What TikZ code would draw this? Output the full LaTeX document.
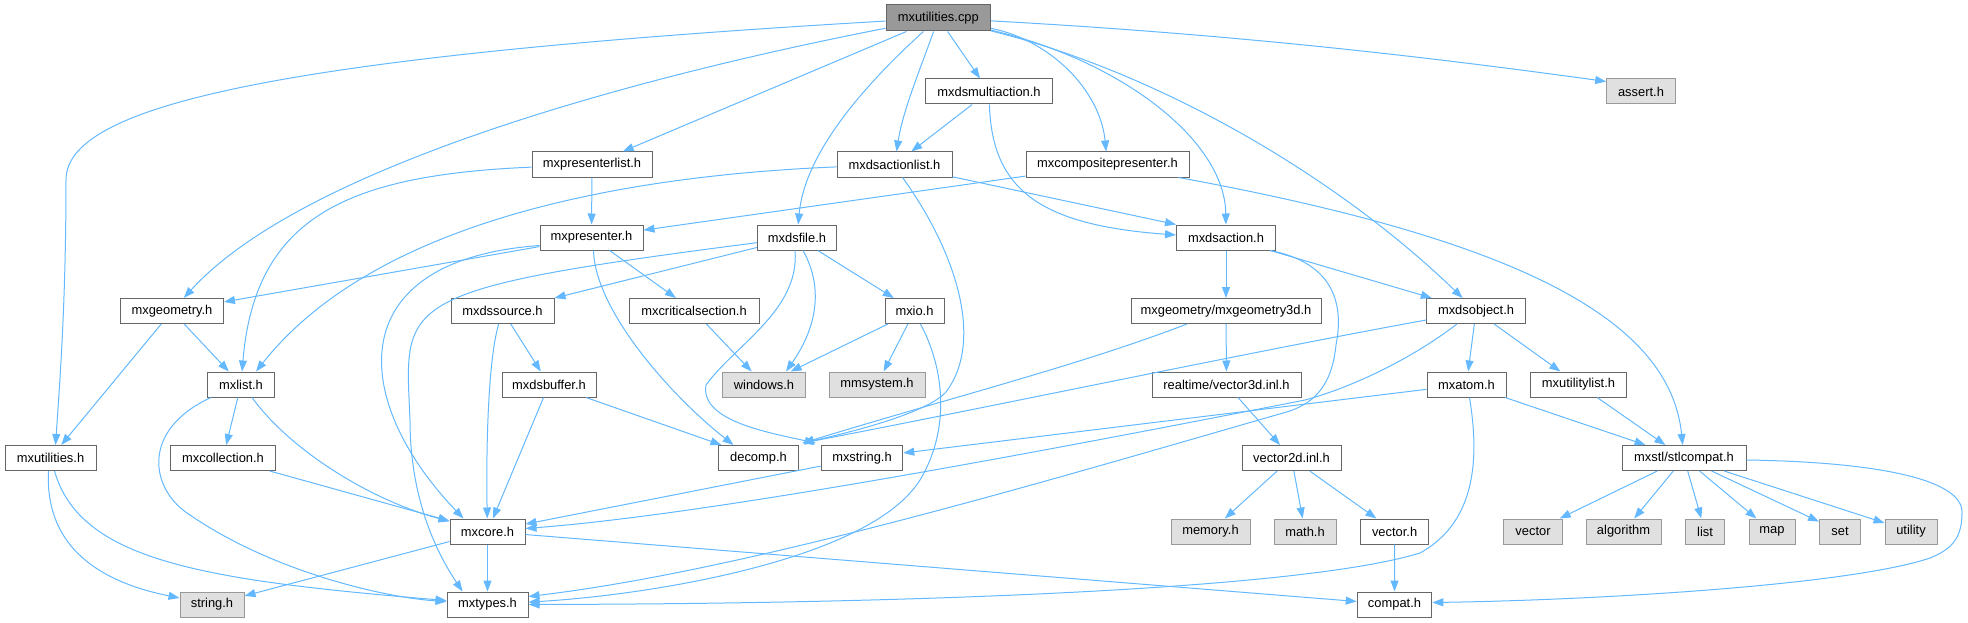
\documentclass[tikz,border=0pt]{standalone}
\usepackage{fontspec}
\setmainfont{Liberation Sans}
\usetikzlibrary{arrows.meta}
\definecolor{edgeblue}{HTML}{63B8FF}
\definecolor{nodeborder}{HTML}{666666}
\definecolor{grayfill}{HTML}{E0E0E0}
\definecolor{grayborder}{HTML}{999999}
\definecolor{rootfill}{HTML}{999999}
\begin{document}
\begin{tikzpicture}[x=1pt,y=-1pt,
 box/.style={draw=nodeborder, fill=white, line width=1pt, minimum height=25pt, inner sep=0pt, font=\fontsize{12.9}{15}\selectfont, text=black},
 sysbox/.style={box, draw=grayborder, fill=grayfill},
 rootbox/.style={box, fill=rootfill, minimum height=26pt},
 dep/.style={draw=edgeblue, line width=1pt, -{Triangle[length=11pt,width=8pt]}},
]
\useasboundingbox (0,0) rectangle (1968,623);

\node[rootbox, minimum width=104.5pt] (cpp) at (938.3,18) {mxutilities.cpp};
\node[box, minimum width=127pt] (multiaction) at (989,91.5) {mxdsmultiaction.h};
\node[sysbox, minimum width=68.6pt] (assert) at (1641,91.5) {assert.h};
\node[box, minimum width=120pt] (presenterlist) at (592,164.5) {mxpresenterlist.h};
\node[box, minimum width=115pt] (actionlist) at (894.5,164.5) {mxdsactionlist.h};
\node[box, minimum width=163pt] (composite) at (1107.5,164.5) {mxcompositepresenter.h};
\node[box, minimum width=103pt] (presenter) at (591.5,237.5) {mxpresenter.h};
\node[box, minimum width=79pt] (dsfile) at (797,237.5) {mxdsfile.h};
\node[box, minimum width=99pt] (dsaction) at (1226,237.5) {mxdsaction.h};
\node[box, minimum width=103pt] (geometry) at (172,311) {mxgeometry.h};
\node[box, minimum width=103pt] (dssource) at (502.5,311) {mxdssource.h};
\node[box, minimum width=130pt] (critsec) at (694,311) {mxcriticalsection.h};
\node[box, minimum width=59pt] (mxio) at (914.5,311) {mxio.h};
\node[box, minimum width=190pt] (geomthree) at (1226,311) {mxgeometry/mxgeometry3d.h};
\node[box, minimum width=98.5pt] (dsobject) at (1476,311) {mxdsobject.h};
\node[box, minimum width=67.5pt] (mxlist) at (241,384.5) {mxlist.h};
\node[box, minimum width=94pt] (dsbuffer) at (549,384.5) {mxdsbuffer.h};
\node[sysbox, minimum width=82.5pt] (windows) at (764,384.5) {windows.h};
\node[sysbox, minimum width=96pt] (mmsystem) at (877,384.5) {mmsystem.h};
\node[box, minimum width=149pt] (vecthree) at (1226.5,384.5) {realtime/vector3d.inl.h};
\node[box, minimum width=79pt] (atom) at (1466.5,384.5) {mxatom.h};
\node[box, minimum width=96pt] (utilitylist) at (1578.5,384.5) {mxutilitylist.h};
\node[box, minimum width=91pt] (mxutilh) at (50.5,458) {mxutilities.h};
\node[box, minimum width=104.5pt] (collection) at (223,458) {mxcollection.h};
\node[box, minimum width=79.3pt] (decomp) at (758.5,458) {decomp.h};
\node[box, minimum width=81.5pt] (mxstring) at (862,458) {mxstring.h};
\node[box, minimum width=99pt] (vectwo) at (1291.5,458) {vector2d.inl.h};
\node[box, minimum width=124pt] (stlcompat) at (1684,458) {mxstl/stlcompat.h};
\node[box, minimum width=75pt] (mxcore) at (487.5,531.5) {mxcore.h};
\node[sysbox, minimum width=79pt] (memory) at (1210.5,531.5) {memory.h};
\node[sysbox, minimum width=62pt] (math) at (1305,531.5) {math.h};
\node[box, minimum width=68pt] (vectorh) at (1394.6,531.5) {vector.h};
\node[sysbox, minimum width=59pt] (vector) at (1533,531.5) {vector};
\node[sysbox, minimum width=75pt] (algorithm) at (1623.5,531.5) {algorithm};
\node[sysbox, minimum width=39pt] (list) at (1705,531.5) {list};
\node[sysbox, minimum width=46pt] (map) at (1772,531.5) {map};
\node[sysbox, minimum width=41pt] (set) at (1840,531.5) {set};
\node[sysbox, minimum width=52pt] (utility) at (1911,531.5) {utility};
\node[sysbox, minimum width=64pt] (stringh) at (212,604.5) {string.h};
\node[box, minimum width=81pt] (mxtypes) at (487.5,604.5) {mxtypes.h};
\node[box, minimum width=74.6pt] (compat) at (1394.5,604.5) {compat.h};

% from mxutilities.cpp
\draw[dep] (cpp) .. controls (250,58) and (66,110) .. (66,180) .. controls (66,300) and (60,380) .. ([xshift=5pt]mxutilh.north);
\draw[dep] (cpp) .. controls (620,80) and (300,170) .. (geometry);
\draw[dep] (cpp) -- (presenterlist);
\draw[dep] (cpp) .. controls (870,80) and (805,150) .. (dsfile);
\draw[dep] (cpp) .. controls (920,70) and (903,110) .. (actionlist);
\draw[dep] (cpp) -- (multiaction);
\draw[dep] (cpp) .. controls (1050,40) and (1100,90) .. (composite);
\draw[dep] (cpp) .. controls (1120,60) and (1225,140) .. (dsaction);
\draw[dep] (cpp) .. controls (1150,70) and (1330,170) .. (dsobject);
\draw[dep] (cpp) .. controls (1250,35) and (1450,60) .. ([yshift=10pt]assert.west);

% second row
\draw[dep] (multiaction) -- (actionlist);
\draw[dep] (multiaction) .. controls (992,190) and (1040,225) .. ([yshift=2.5pt]dsaction.west);
\draw[dep] (actionlist) -- (dsaction.north west);
\draw[dep] (actionlist) .. controls (640,175) and (380,215) .. ([xshift=15pt]mxlist.north);
\draw[dep] ([xshift=8pt]actionlist.south) .. controls (955,250) and (985,340) .. (946,392) .. controls (930,410) and (870,428) .. ([xshift=4pt,yshift=2pt]decomp.north east);
\draw[dep] (presenterlist) -- (presenter);
\draw[dep] (presenterlist) .. controls (350,175) and (255,215) .. (mxlist);
\draw[dep] (composite) -- (presenter);
\draw[dep] (composite) .. controls (1520,240) and (1670,320) .. (stlcompat);

% presenter
\draw[dep] (presenter) -- (geometry);
\draw[dep] ([yshift=-8pt]presenter.west) .. controls (340,260) and (350,400) .. ([xshift=-24pt]mxcore.north);
\draw[dep] (presenter) -- (critsec);
\draw[dep] ([xshift=2pt]presenter.south) .. controls (595,310) and (670,395) .. ([xshift=-25pt]decomp.north);

% dsfile
\draw[dep] (dsfile) -- (dssource);
\draw[dep] (dsfile) .. controls (390,290) and (405,300) .. (410,420) .. controls (410,510) and (445,565) .. ([xshift=-25pt]mxtypes.north);
\draw[dep] ([xshift=-2pt]dsfile.south) .. controls (800,310) and (735,345) .. (706,385) .. controls (700,420) and (765,432) .. ([xshift=-5pt,yshift=2pt]mxstring.north west);
\draw[dep] ([xshift=6pt]dsfile.south) .. controls (825,290) and (815,330) .. ([xshift=22pt]windows.north);
\draw[dep] (dsfile) -- (mxio);
\draw[dep] (critsec) -- (windows);
\draw[dep] (mxio) -- (windows);
\draw[dep] (mxio) -- (mmsystem);
\draw[dep] ([xshift=6pt]mxio.south) .. controls (945,370) and (950,430) .. (920,480) .. controls (870,560) and (650,595) .. (mxtypes);

% left part
\draw[dep] (geometry) -- (mxlist);
\draw[dep] (geometry) -- (mxutilh);
\draw[dep] (mxlist) -- (collection);
\draw[dep] ([xshift=11pt]mxlist.south) .. controls (290,450) and (370,500) .. (mxcore);
\draw[dep] ([xshift=-30pt]mxlist.south) .. controls (140,430) and (150,490) .. (190,515) .. controls (270,570) and (380,597) .. (mxtypes);
\draw[dep] (collection) -- (mxcore);
\draw[dep] ([xshift=-2pt]mxutilh.south) .. controls (45,540) and (90,580) .. (stringh);
\draw[dep] ([xshift=4pt]mxutilh.south) .. controls (80,560) and (200,580) .. ([yshift=4pt]mxtypes.west);
\draw[dep] (mxcore) -- (stringh);
\draw[dep] (mxcore) -- (mxtypes);
\draw[dep] (mxcore) -- (compat);
\draw[dep] (dssource) .. controls (488,360) and (486,450) .. (mxcore);
\draw[dep] (dssource) -- (dsbuffer);
\draw[dep] (dsbuffer) -- (mxcore);
\draw[dep] (dsbuffer) -- (decomp);
\draw[dep] (mxstring) -- (mxcore);

% dsaction
\draw[dep] (dsaction) -- (geomthree);
\draw[dep] (dsaction) -- (dsobject);
\draw[dep] ([xshift=-6pt]dsaction.south east) .. controls (1330,262) and (1345,300) .. (1336,345) .. controls (1332,385) and (1315,402) .. (1290,411) .. controls (1050,480) and (750,570) .. ([yshift=8pt]mxtypes.east);
\draw[dep] (geomthree) -- (vecthree);
\draw[dep] ([xshift=-39pt]geomthree.south) .. controls (1080,365) and (960,395) .. ([xshift=4pt,yshift=2pt]decomp.north east);
\draw[dep] (vecthree) -- (vectwo);
\draw[dep] (vectwo) -- (memory);
\draw[dep] (vectwo) -- (math);
\draw[dep] (vectwo) -- (vectorh);
\draw[dep] (vectorh) -- (compat);

% dsobject
\draw[dep] (dsobject) -- (atom);
\draw[dep] (dsobject) -- (utilitylist);
\draw[dep] ([yshift=-9pt]dsobject.west) .. controls (1250,352) and (1000,405) .. ([xshift=4pt,yshift=2pt]decomp.north east);
\draw[dep] ([xshift=-19pt]dsobject.south) .. controls (1410,360) and (1350,388) .. (1305,400) .. controls (1000,460) and (700,515) .. ([yshift=3pt]mxcore.east);
\draw[dep] (atom) -- (mxstring);
\draw[dep] (atom) -- (stlcompat);
\draw[dep] ([xshift=3pt]atom.south) .. controls (1478,450) and (1480,520) .. (1420,553) .. controls (1300,590) and (900,604) .. (mxtypes);
\draw[dep] (utilitylist) -- (stlcompat);

% stlcompat
\draw[dep] (stlcompat) -- (vector);
\draw[dep] (stlcompat) -- (algorithm);
\draw[dep] (stlcompat) -- (list);
\draw[dep] (stlcompat) -- (map);
\draw[dep] (stlcompat) -- (set);
\draw[dep] (stlcompat) -- (utility);
\draw[dep] ([yshift=-2pt]stlcompat.east) .. controls (1880,462) and (1962,480) .. (1962,512) .. controls (1962,535) and (1955,548) .. (1930,558) .. controls (1850,585) and (1600,600) .. ([yshift=2pt]compat.east);
\end{tikzpicture}
\end{document}
